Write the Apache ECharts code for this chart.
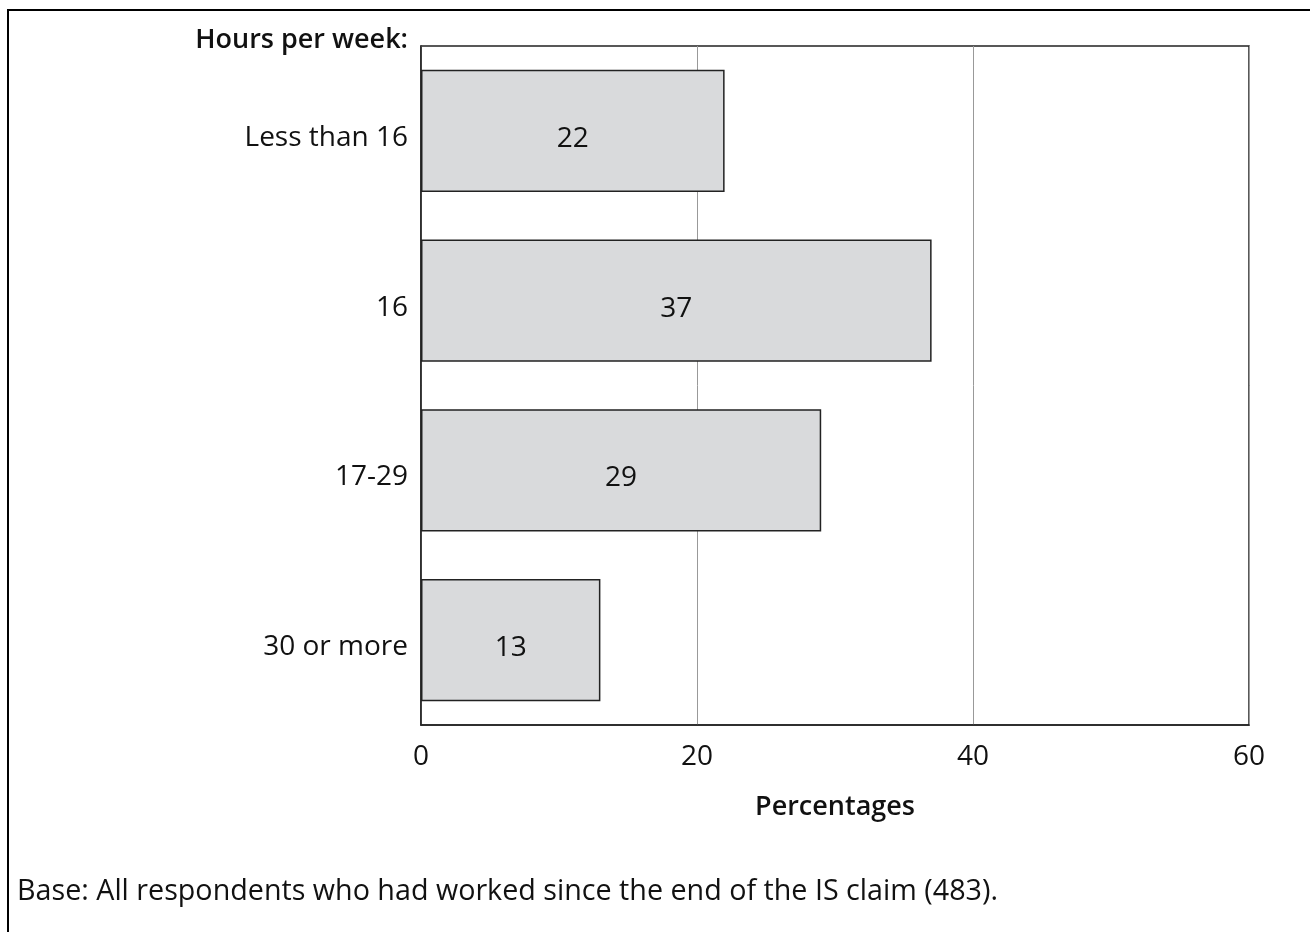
<!DOCTYPE html>
<html>
<head>
<meta charset="utf-8">
<script src="https://cdn.jsdelivr.net/npm/echarts@6/dist/echarts.min.js"></script>
<style>
  html, body { margin: 0; padding: 0; background: #fff; }
  #chart { width: 1310px; height: 932px; }
</style>
</head>
<body>
<div id="chart"></div>
<script>
// Hours worked per week since the end of the IS claim
const categories = ['Less than 16', '16', '17-29', '30 or more'];
const percentages = [22, 37, 29, 13];
const xTicks = [0, 20, 40, 60];

const FONT = 'Open Sans';
const SIZE = 28;      // regular text
const BOLD_SIZE = 27; // semibold headings
const chart = echarts.init(document.getElementById('chart'), null, { renderer: 'canvas' });

chart.setOption({
  animation: false,
  backgroundColor: '#ffffff',
  textStyle: { fontFamily: FONT },
  grid: {
    left: 421, right: 61, top: 46, bottom: 207,
    show: true, borderColor: '#222', borderWidth: 1.5, backgroundColor: 'transparent'
  },
  xAxis: {
    type: 'value',
    min: xTicks[0], max: xTicks[xTicks.length - 1], interval: 20,
    name: 'Percentages', nameLocation: 'middle', nameGap: 69,
    nameTextStyle: { fontSize: BOLD_SIZE, fontWeight: 600, color: '#111', fontFamily: FONT },
    axisLine: { show: true, lineStyle: { color: '#222', width: 1.5 } },
    axisTick: { show: false },
    axisLabel: { fontSize: SIZE, color: '#111', margin: 18, fontFamily: FONT },
    splitLine: { show: true, lineStyle: { color: '#999', width: 1 } }
  },
  yAxis: {
    type: 'category',
    data: categories,
    inverse: true,
    axisLine: { show: true, lineStyle: { color: '#222', width: 1.5 } },
    axisTick: { show: false },
    axisLabel: {
      fontSize: SIZE, color: '#111', margin: 13, fontFamily: FONT,
      verticalAlign: 'top', lineHeight: 14
    },
    splitLine: { show: false }
  },
  series: [{
    type: 'bar',
    data: percentages,
    barCategoryGap: '28%',
    itemStyle: { color: '#d9dadc', borderColor: '#222', borderWidth: 1.5 },
    label: {
      show: true, position: 'inside', offset: [0, 8],
      fontSize: SIZE, color: '#111', fontFamily: FONT
    }
  }],
  graphic: [
    {
      type: 'rect', silent: true,
      shape: { x: 8, y: 10, width: 1320, height: 940 },
      style: { fill: 'none', stroke: '#000', lineWidth: 2 }
    },
    {
      type: 'text', right: 902, top: 27,
      style: { text: 'Hours per week:', fontSize: BOLD_SIZE, fontWeight: 600, fill: '#111', fontFamily: FONT }
    },
    {
      type: 'text', left: 17, top: 877,
      style: { text: 'Base: All respondents who had worked since the end of the IS claim (483).', fontSize: 28.7, fill: '#111', fontFamily: FONT }
    }
  ]
});
</script>
</body>
</html>
